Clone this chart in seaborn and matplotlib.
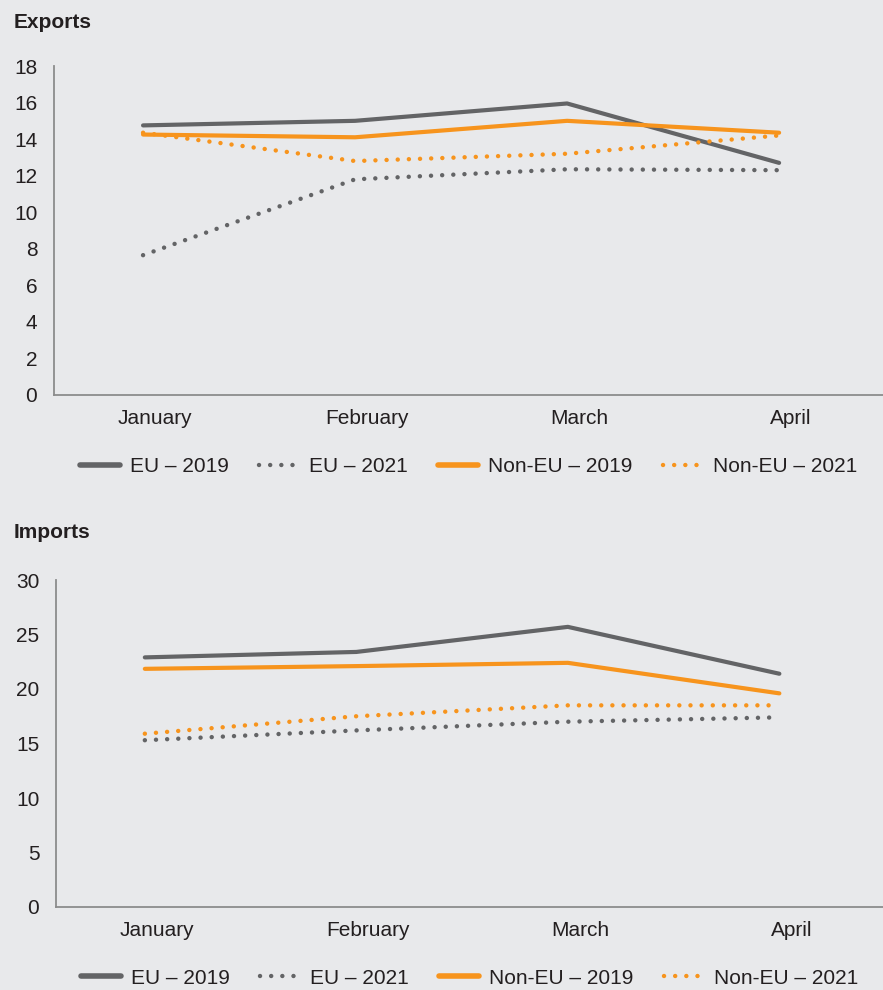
import pandas as pd
import seaborn as sns
import matplotlib.pyplot as plt
from matplotlib.transforms import ScaledTranslation

MONTHS = ["January", "February", "March", "April"]

# Exports
EXP_EU_2019 = [14.75, 15.0, 15.95, 12.7]
EXP_EU_2021 = [7.65, 11.8, 12.35, 12.3]
EXP_NONEU_2019 = [14.25, 14.1, 15.0, 14.35]
EXP_NONEU_2021 = [14.35, 12.8, 13.2, 14.2]

# Imports
IMP_EU_2019 = [22.9, 23.4, 25.7, 21.4]
IMP_EU_2021 = [15.3, 16.2, 17.0, 17.4]
IMP_NONEU_2019 = [21.85, 22.1, 22.4, 19.6]
IMP_NONEU_2021 = [15.9, 17.5, 18.5, 18.5]

SERIES = ["EU \u2013 2019", "EU \u2013 2021", "Non-EU \u2013 2019", "Non-EU \u2013 2021"]

GREY = "#636466"
ORANGE = "#F7941D"
BG = "#E8E9EB"
AXIS = "#8C8C8C"
TEXT = "#231F20"

sns.set_theme(style="white")
plt.rcParams["font.family"] = ["Liberation Sans", "DejaVu Sans"]

DOTS = (0, (0.01, 2.5))
styles = {
    SERIES[0]: dict(color=GREY, linestyle="-", lw=3.0),
    SERIES[1]: dict(color=GREY, linestyle=DOTS, lw=3.2),
    SERIES[2]: dict(color=ORANGE, linestyle="-", lw=3.0),
    SERIES[3]: dict(color=ORANGE, linestyle=DOTS, lw=3.2),
}


def draw(ax, values, ymax, step, title, title_y):
    for name, vals in zip(SERIES, values):
        df = pd.DataFrame({"month": MONTHS, "value": vals})
        sns.lineplot(data=df, x="month", y="value", ax=ax, sort=False,
                     errorbar=None, label=name, solid_capstyle="round",
                     dash_capstyle="round", **styles[name])
    ax.set_facecolor(BG)
    ax.set_xlim(-0.42, 3.49)
    ax.set_ylim(0, ymax)
    ax.set_yticks(range(0, ymax + 1, step))
    ax.set_xlabel("")
    ax.set_ylabel("")
    for s in ["top", "right"]:
        ax.spines[s].set_visible(False)
    for s in ["left", "bottom"]:
        ax.spines[s].set_color(AXIS)
        ax.spines[s].set_linewidth(1.3)
    ax.tick_params(axis="both", length=0, labelsize=15, colors=TEXT)
    ax.tick_params(axis="y", pad=12)
    ax.tick_params(axis="x", pad=10)
    shift = ScaledTranslation(12 / 100, 0, fig.dpi_scale_trans)
    for lab in ax.get_xticklabels():
        lab.set_transform(lab.get_transform() + shift)
    leg = ax.legend(loc="center", bbox_to_anchor=(0.5, -0.218), ncol=4,
                    frameon=False, fontsize=15, handlelength=1.9,
                    handletextpad=0.5, columnspacing=1.45)
    for t in leg.get_texts():
        t.set_color(TEXT)
    for h in leg.get_lines():
        if h.get_linestyle() == "-":
            h.set_linewidth(4.0)
    fig.text(14 / 883, 1 - title_y / 990, title, fontsize=15,
             fontweight="bold", color=TEXT, va="center", ha="left")


fig = plt.figure(figsize=(8.83, 9.90), dpi=100, facecolor=BG)
ax1 = fig.add_axes([54 / 883, 1 - 395 / 990, 1 - 54 / 883, (395 - 66) / 990])
ax2 = fig.add_axes([56 / 883, 1 - 907 / 990, 1 - 56 / 883, (907 - 580) / 990])

draw(ax1, [EXP_EU_2019, EXP_EU_2021, EXP_NONEU_2019, EXP_NONEU_2021],
     18, 2, "Exports", 22)
draw(ax2, [IMP_EU_2019, IMP_EU_2021, IMP_NONEU_2019, IMP_NONEU_2021],
     30, 5, "Imports", 533)

fig.savefig("out.png", dpi=100, facecolor=BG)
plt.close(fig)
